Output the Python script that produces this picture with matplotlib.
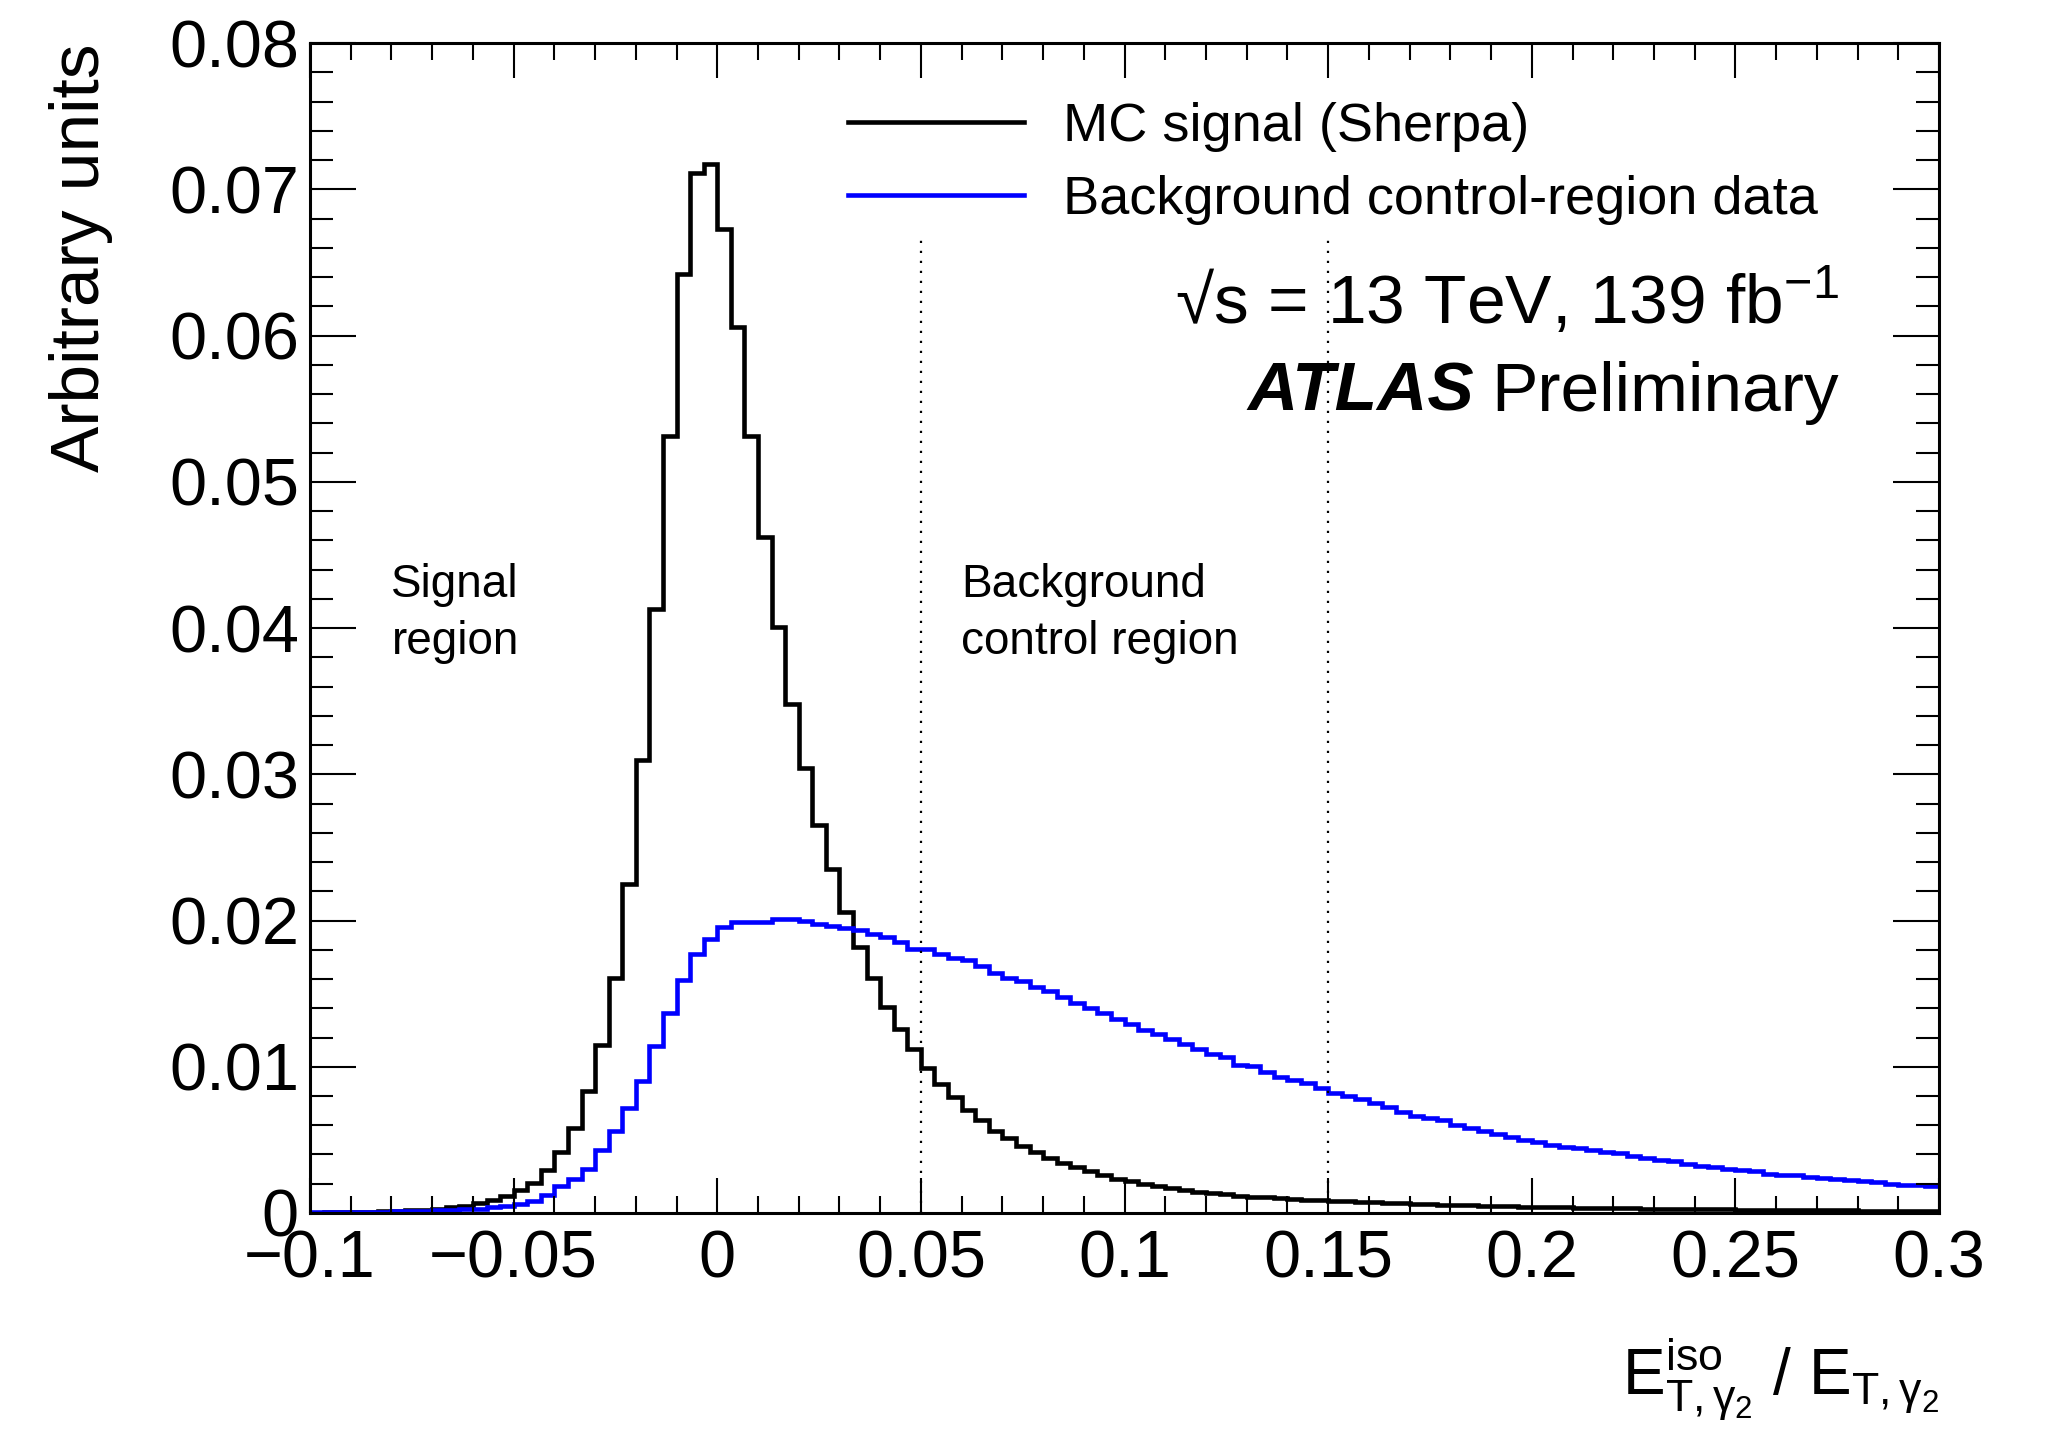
import numpy as np
import matplotlib
matplotlib.use("Agg")
import matplotlib.pyplot as plt
from matplotlib.ticker import MultipleLocator, FuncFormatter
from matplotlib.lines import Line2D

plt.rcParams['font.family'] = ['Liberation Sans', 'DejaVu Sans']
plt.rcParams['mathtext.fontset'] = 'custom'
plt.rcParams['mathtext.rm'] = 'Liberation Sans'
plt.rcParams['mathtext.it'] = 'Liberation Sans'
plt.rcParams['mathtext.bf'] = 'Liberation Sans:bold'

# ── Histogram binning: 120 bins from -0.1 to 0.3 ─────────────────────────────
x_lo, x_hi, n_bins = -0.1, 0.3, 120

# MC signal (Sherpa), bin contents
signal = [
    0.00003, 0.00004, 0.00005, 0.00007, 0.00009, 0.00011, 0.00014, 0.00018, 0.00022, 0.00029,
    0.00038, 0.00050, 0.00068, 0.00087, 0.00114, 0.00155, 0.00205, 0.00296, 0.00415, 0.00581,
    0.00832, 0.01150, 0.01610, 0.02250, 0.03100, 0.04130, 0.05310, 0.06420, 0.07110, 0.07170,
    0.06730, 0.06060, 0.05310, 0.04620, 0.04010, 0.03480, 0.03040, 0.02650, 0.02350, 0.02060,
    0.01820, 0.01610, 0.01410, 0.01260, 0.01120, 0.00990, 0.00885, 0.00790, 0.00705, 0.00633,
    0.00560, 0.00510, 0.00460, 0.00416, 0.00376, 0.00342, 0.00315, 0.00287, 0.00258, 0.00235,
    0.00217, 0.00200, 0.00182, 0.00168, 0.00156, 0.00145, 0.00135, 0.00127, 0.00119, 0.00112,
    0.00106, 0.00100, 0.00096, 0.00092, 0.00088, 0.00085, 0.00080, 0.00076, 0.00072, 0.00069,
    0.00066, 0.00063, 0.00060, 0.00057, 0.00055, 0.00052, 0.00050, 0.00048, 0.00046, 0.00044,
    0.00042, 0.00040, 0.00038, 0.00037, 0.00035, 0.00034, 0.00032, 0.00031, 0.00030, 0.00029,
    0.00028, 0.00027, 0.00026, 0.00025, 0.00024, 0.00023, 0.00022, 0.00021, 0.00021, 0.00020,
    0.00019, 0.00019, 0.00018, 0.00018, 0.00017, 0.00017, 0.00016, 0.00016, 0.00015, 0.00015,
]

# Background control-region data
background = [
    0.00005, 0.00006, 0.00007, 0.00008, 0.00009, 0.00010, 0.00012, 0.00014, 0.00016, 0.00019,
    0.00022, 0.00026, 0.00030, 0.00038, 0.00048, 0.00064, 0.00084, 0.00125, 0.00182, 0.00235,
    0.00300, 0.00433, 0.00558, 0.00718, 0.00900, 0.01140, 0.01370, 0.01590, 0.01770, 0.01875,
    0.01955, 0.01990, 0.01993, 0.01988, 0.02008, 0.02008, 0.01998, 0.01975, 0.01962, 0.01950,
    0.01936, 0.01909, 0.01884, 0.01854, 0.01808, 0.01806, 0.01772, 0.01743, 0.01728, 0.01686,
    0.01644, 0.01610, 0.01586, 0.01542, 0.01518, 0.01476, 0.01438, 0.01404, 0.01368, 0.01329,
    0.01295, 0.01249, 0.01222, 0.01192, 0.01158, 0.01119, 0.01085, 0.01067, 0.01010, 0.01005,
    0.00964, 0.00930, 0.00907, 0.00891, 0.00855, 0.00818, 0.00799, 0.00778, 0.00754, 0.00725,
    0.00693, 0.00664, 0.00648, 0.00634, 0.00600, 0.00578, 0.00562, 0.00540, 0.00517, 0.00501,
    0.00483, 0.00465, 0.00454, 0.00442, 0.00431, 0.00420, 0.00409, 0.00388, 0.00377, 0.00363,
    0.00354, 0.00336, 0.00323, 0.00314, 0.00302, 0.00291, 0.00284, 0.00269, 0.00262, 0.00257,
    0.00246, 0.00239, 0.00230, 0.00223, 0.00217, 0.00210, 0.00196, 0.00190, 0.00194, 0.00183,
]

region_edges = [0.05, 0.15]
region_line_top = 0.0666

edges = np.linspace(x_lo, x_hi, n_bins + 1)

# ── Figure ────────────────────────────────────────────────────────────────────
fig = plt.figure(figsize=(20.45, 14.36), dpi=100)
ax = fig.add_axes([0.1516, 0.1553, 0.7966, 0.8147])

ax.stairs(signal, edges, color="black", lw=3.3, baseline=None)
ax.stairs(background, edges, color="#0000ff", lw=3.3, baseline=None)

ax.vlines(region_edges, 0, region_line_top, colors="black", lw=1.6,
          linestyles=(0, (1, 3.5)))

ax.set_xlim(x_lo, x_hi)
ax.set_ylim(0, 0.08)

# ROOT-like ticks on all sides, pointing in
ax.xaxis.set_major_locator(MultipleLocator(0.05))
ax.xaxis.set_minor_locator(MultipleLocator(0.01))
ax.yaxis.set_major_locator(MultipleLocator(0.01))
ax.yaxis.set_minor_locator(MultipleLocator(0.002))

def fmt(v, pos):
    v = round(v, 6)
    if v == 0:
        return "0"
    return f"{v:g}".replace("-", "\u2212")

ax.xaxis.set_major_formatter(FuncFormatter(fmt))
ax.yaxis.set_major_formatter(FuncFormatter(fmt))

ax.tick_params(which="both", direction="in", top=True, right=True, width=1.5,
               labelsize=48)
ax.tick_params(axis="x", which="major", length=25, pad=12)
ax.tick_params(axis="x", which="minor", length=12.5)
ax.tick_params(axis="y", which="major", length=33, pad=8)
ax.tick_params(axis="y", which="minor", length=16.5)
for sp in ax.spines.values():
    sp.set_linewidth(2.2)

ax.set_xlabel(r"$\mathrm{E}^{\mathrm{iso}}_{\mathrm{T},\gamma_{2}}$ / $\mathrm{E}_{\mathrm{T},\gamma_{2}}$",
              fontsize=46, loc="right", labelpad=32)
ax.set_ylabel("Arbitrary units", fontsize=50, loc="top")
ax.yaxis.set_label_coords(-0.121, 1.0)

# Legend
handles = [Line2D([], [], color="black", lw=3.3),
           Line2D([], [], color="#0000ff", lw=3.3)]
labels = ["MC signal (Sherpa)", "Background control-region data"]
ax.legend(handles, labels, loc="center left", bbox_to_anchor=(0.3303, 0.8970),
          frameon=False, fontsize=39, handlelength=3.25, handletextpad=0.72,
          labelspacing=0.42, borderpad=0, borderaxespad=0)

# Labels
ax.text(0.9387, 0.7786, "\u221As = 13 TeV, 139 fb$^{\\mathrm{-1}}$",
        transform=ax.transAxes, ha="right", va="center", fontsize=50)
ax.text(0.7145, 0.7009, "ATLAS", transform=ax.transAxes, ha="right", va="center",
        fontsize=50, fontweight="bold", fontstyle="italic")
ax.text(0.7250, 0.7009, "Preliminary", transform=ax.transAxes, ha="left",
        va="center", fontsize=50)

ax.text(-0.080, 0.0410, "Signal\nregion", ha="left", va="center", fontsize=33,
        linespacing=1.38)
ax.text(0.0599, 0.0410, "Background\ncontrol region", ha="left", va="center",
        fontsize=33, linespacing=1.38)

fig.savefig("out.png", dpi=100, facecolor="white")
